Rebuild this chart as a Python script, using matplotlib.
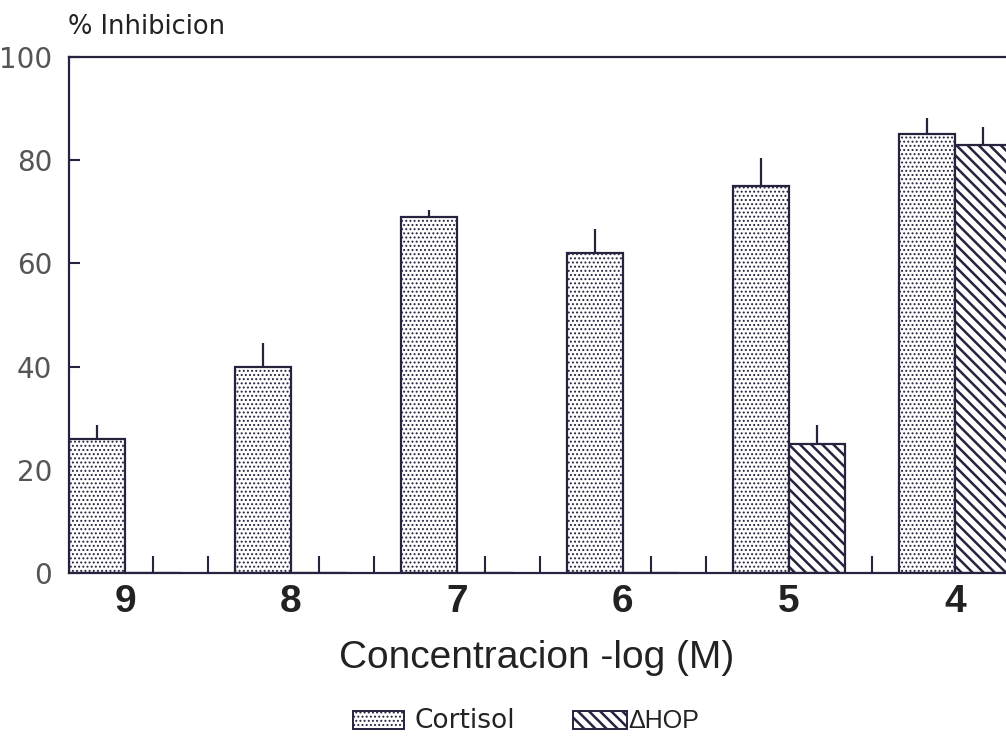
import matplotlib
matplotlib.use('Agg')
import matplotlib.pyplot as plt
import numpy as np
from matplotlib.patches import Rectangle

# ---- data ----
categories = ['9', '8', '7', '6', '5', '4']
cortisol = [26, 40, 69, 62, 75, 85]
cortisol_err = [2.7, 4.6, 1.4, 4.7, 5.4, 3.1]
dhop = [0, 0, 0, 0, 25, 83]
dhop_err = [0, 0, 0, 0, 3.7, 3.4]
yticks = [0, 20, 40, 60, 80, 100]
series_names = ['Cortisol', 'ΔHOP']

plt.rcParams['font.family'] = ['Liberation Sans', 'DejaVu Sans']

EDGE = '#27233f'
TXT = '#222222'
DIAG = '\\\\\\'
DOT_LW = 0.9
DIAG_LW = 1.8

fig = plt.figure(figsize=(10.06, 7.46), dpi=100)
ax = fig.add_axes([0.0686, 0.2319, 0.963, 0.6917])

x = np.arange(len(categories))
w = 0.337
plt.rcParams['hatch.linewidth'] = DOT_LW
ax.bar(x - w / 2, cortisol, w, facecolor='white', edgecolor=EDGE,
       hatch='....', linewidth=1.6, zorder=2)
plt.rcParams['hatch.linewidth'] = DIAG_LW
ax.bar(x + w / 2, dhop, w, facecolor='white', edgecolor=EDGE,
       hatch=DIAG, linewidth=1.6, zorder=2)

ax.errorbar(x - w / 2, cortisol, yerr=[np.zeros(len(x)), cortisol_err],
            fmt='none', ecolor=EDGE, elinewidth=1.6, capsize=0, zorder=3)
dh_idx = [i for i, e in enumerate(dhop_err) if e > 0]
ax.errorbar(x[dh_idx] + w / 2, [dhop[i] for i in dh_idx],
            yerr=[np.zeros(len(dh_idx)), [dhop_err[i] for i in dh_idx]],
            fmt='none', ecolor=EDGE, elinewidth=1.6, capsize=0, zorder=3)

ax.set_xlim(-w, 5.5)
ax.set_ylim(0, 100)

for s in ['left', 'bottom', 'top']:
    ax.spines[s].set_color(EDGE)
    ax.spines[s].set_linewidth(1.6)
ax.spines['right'].set_visible(False)

ax.set_xticks(x)
ax.set_xticklabels(categories, fontsize=28, fontweight='bold', color=TXT)
ax.tick_params(axis='x', which='major', length=0, pad=8)
minor = sorted(list(x - w / 2) + list(x + w / 2) + list(x + 0.5))
ax.set_xticks(minor, minor=True)
ax.tick_params(axis='x', which='minor', direction='in', length=12,
               width=1.5, color=EDGE)

ax.set_yticks(yticks)
ax.set_yticklabels([str(v) for v in yticks], fontsize=20, color='#555555',
                   family='DejaVu Sans')
ax.tick_params(axis='y', direction='in', length=8, width=1.5, color=EDGE, pad=12)

fig.text(68 / 1006, 1 - 27 / 746, '% Inhibicion', ha='left', va='center',
         fontsize=18.5, color=TXT, family='DejaVu Sans')
fig.text(537 / 1006, 1 - 658 / 746, 'Concentracion -log (M)', ha='center',
         va='center', fontsize=28, color=TXT)

# legend
plt.rcParams['hatch.linewidth'] = DOT_LW
r1 = Rectangle((353 / 1006, 1 - 729 / 746), 51 / 1006, 18 / 746,
               transform=fig.transFigure, facecolor='white', edgecolor=EDGE,
               hatch='....', linewidth=1.4)
plt.rcParams['hatch.linewidth'] = DIAG_LW
r2 = Rectangle((573 / 1006, 1 - 729 / 746), 54 / 1006, 18 / 746,
               transform=fig.transFigure, facecolor='white', edgecolor=EDGE,
               hatch=DIAG, linewidth=1.4)
fig.add_artist(r1)
fig.add_artist(r2)
fig.text(415 / 1006, 1 - 721 / 746, series_names[0], ha='left', va='center',
         fontsize=19, color=TXT, family='DejaVu Sans')
fig.text(628 / 1006, 1 - 721 / 746, series_names[1], ha='left', va='center',
         fontsize=18, color=TXT)

fig.savefig('out.png', dpi=100)
